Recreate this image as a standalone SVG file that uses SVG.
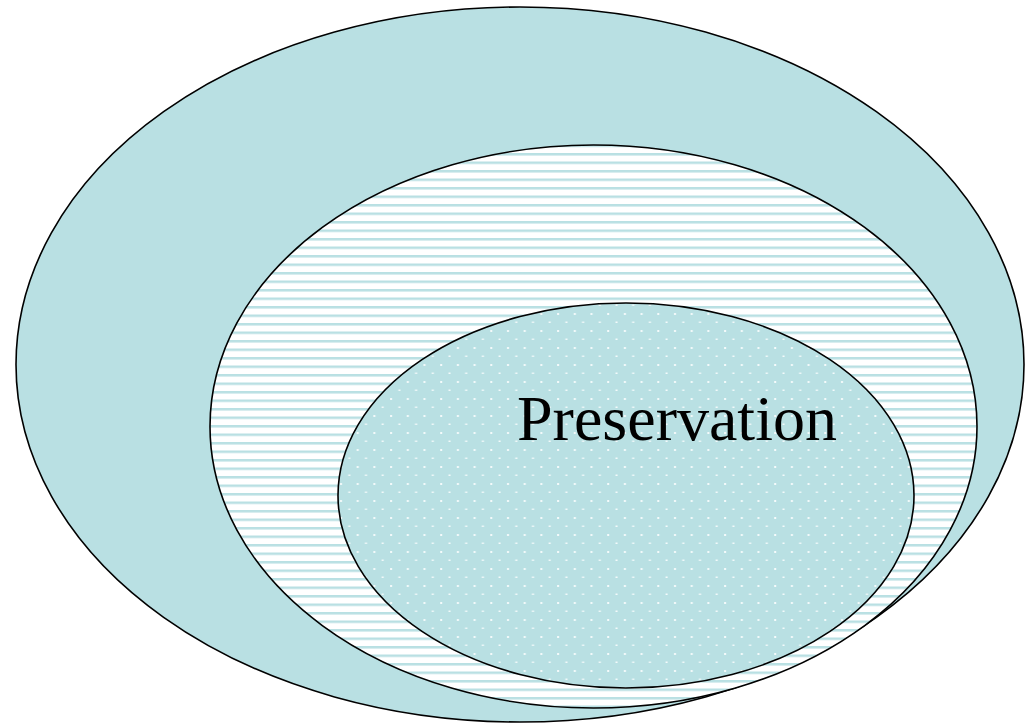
<svg xmlns="http://www.w3.org/2000/svg" width="1031" height="725" viewBox="0 0 1031 725">
  <style>
    .ring { stroke: #000; stroke-width: 1.6; }
    .label { font-family: "Liberation Serif", "Times New Roman", serif; font-size: 64px; fill: #000; }
  </style>
  <defs>
    <!-- horizontal light-teal stripes on white -->
    <pattern id="stripes" patternUnits="userSpaceOnUse" x="0" y="0" width="8" height="8.5">
      <rect width="8" height="8.5" fill="#ffffff"/>
      <rect y="0" width="8" height="2.5" fill="#b9e0e3"/>
    </pattern>
    <!-- staggered white dots on teal -->
    <pattern id="dots" patternUnits="userSpaceOnUse" x="0" y="0" width="16.7" height="17">
      <rect width="16.7" height="17" fill="#b9e0e3"/>
      <rect x="6" y="7" width="2" height="2" fill="#ffffff" opacity="0.85"/>
      <rect x="14.3" y="15.5" width="2" height="2" fill="#ffffff" opacity="0.85"/>
    </pattern>
  </defs>
  <rect width="1031" height="725" fill="#ffffff"/>
  <g id="outer">
    <ellipse class="ring" cx="520" cy="364.5" rx="504" ry="357.5" fill="#b9e0e3"/>
  </g>
  <g id="middle">
    <ellipse class="ring" cx="593.5" cy="426.5" rx="383.5" ry="281.5" fill="url(#stripes)"/>
  </g>
  <g id="inner">
    <ellipse class="ring" cx="626" cy="495.5" rx="288" ry="192.5" fill="url(#dots)"/>
    <text class="label" x="517" y="440">Preservation</text>
  </g>
  <g id="connectors"/>
</svg>
